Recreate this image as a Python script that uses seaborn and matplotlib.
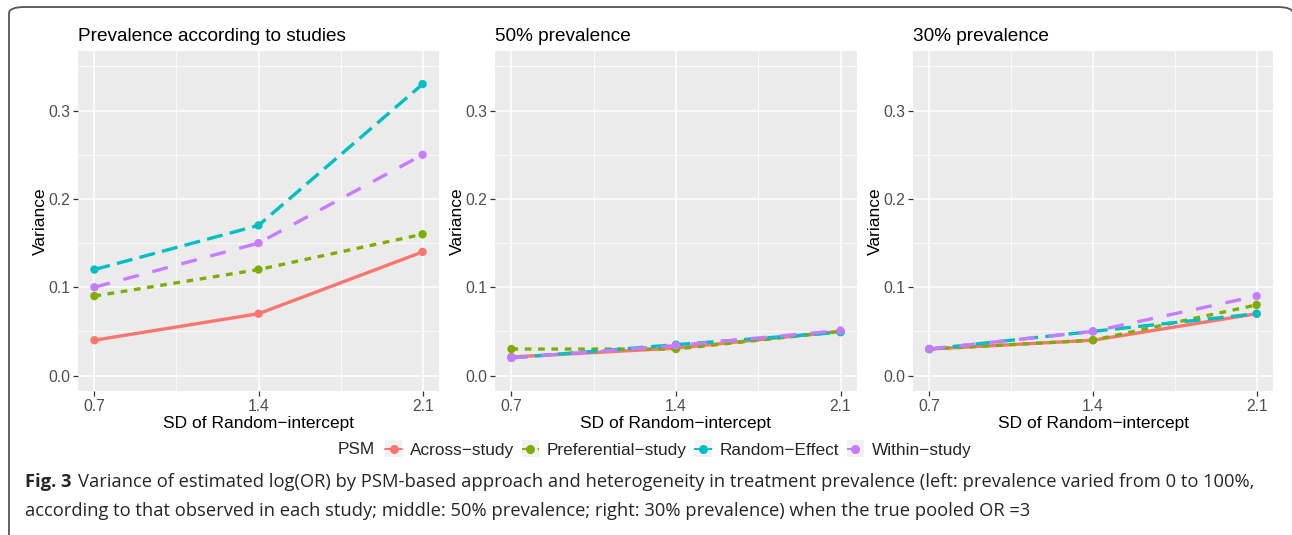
import matplotlib
matplotlib.use("Agg")
import matplotlib.pyplot as plt
import seaborn as sns
import pandas as pd
from matplotlib.patches import FancyBboxPatch, Rectangle
from matplotlib.lines import Line2D
from matplotlib.ticker import FixedLocator

# ---------------- data ----------------
sd_values = [0.7, 1.4, 2.1]
methods = ["Across\u2212study", "Preferential\u2212study", "Random\u2212Effect", "Within\u2212study"]
panel_titles = ["Prevalence according to studies", "50% prevalence", "30% prevalence"]

# Prevalence according to studies
p1_across = [0.04, 0.07, 0.14]
p1_pref = [0.09, 0.12, 0.16]
p1_random = [0.12, 0.17, 0.33]
p1_within = [0.10, 0.15, 0.25]
# 50% prevalence
p2_across = [0.021, 0.031, 0.050]
p2_pref = [0.030, 0.030, 0.050]
p2_random = [0.020, 0.035, 0.049]
p2_within = [0.020, 0.034, 0.051]
# 30% prevalence
p3_across = [0.03, 0.04, 0.07]
p3_pref = [0.03, 0.04, 0.08]
p3_random = [0.03, 0.05, 0.07]
p3_within = [0.03, 0.05, 0.09]

panels = [
    [p1_across, p1_pref, p1_random, p1_within],
    [p2_across, p2_pref, p2_random, p2_within],
    [p3_across, p3_pref, p3_random, p3_within],
]

rows = []
for title, series in zip(panel_titles, panels):
    for m, vals in zip(methods, series):
        for x, v in zip(sd_values, vals):
            rows.append({"panel": title, "PSM": m, "SD": x, "Variance": v})
df = pd.DataFrame(rows)

palette = dict(zip(methods, ["#F8766D", "#7CAE00", "#00BFC4", "#C77CFF"]))
dashes = dict(zip(methods, ["", (2.0, 2.0), (4.8, 2.2), (4.8, 4.2)]))

# ---------------- figure ----------------
sns.set_theme(style="darkgrid")
plt.rcParams["font.family"] = ["Liberation Sans", "DejaVu Sans"]

W, H = 1292, 535
fig = plt.figure(figsize=(W / 100, H / 100), dpi=100)
fig.patch.set_facecolor("white")


def fx(px):
    return px / W


def fy(py):
    return 1 - py / H


panel_x = [(78, 439), (495, 857), (913, 1273)]
top, bot = 51, 391
LW = 2.4

for (x0, x1), title in zip(panel_x, panel_titles):
    ax = fig.add_axes([fx(x0), fy(bot), fx(x1 - x0), (bot - top) / H])
    sub = df[df["panel"] == title]
    sns.lineplot(data=sub, x="SD", y="Variance", hue="PSM", style="PSM",
                 palette=palette, dashes=dashes, markers=False,
                 linewidth=LW, ax=ax, legend=False, errorbar=None)
    sns.scatterplot(data=sub, x="SD", y="Variance", hue="PSM", palette=palette,
                    s=36, linewidth=0, ax=ax, legend=False, zorder=5)
    ax.set_facecolor("#EBEBEB")
    ax.set_xlim(0.63, 2.17)
    ax.set_ylim(-0.0175, 0.3675)
    ax.set_xticks(sd_values)
    ax.set_xticklabels(["0.7", "1.4", "2.1"])
    ax.set_yticks([0.0, 0.1, 0.2, 0.3])
    ax.set_yticklabels(["0.0", "0.1", "0.2", "0.3"])
    ax.xaxis.set_minor_locator(FixedLocator([1.05, 1.75]))
    ax.yaxis.set_minor_locator(FixedLocator([0.05, 0.15, 0.25, 0.35]))
    ax.grid(which="major", color="white", linewidth=1.1)
    ax.grid(which="minor", color="white", linewidth=0.55)
    ax.set_axisbelow(True)
    for s in ax.spines.values():
        s.set_visible(False)
    ax.tick_params(axis="both", which="major", length=3.5, width=0.9, color="#333333",
                   labelsize=11.3, labelcolor="#4D4D4D", pad=2, bottom=True, left=True)
    ax.tick_params(axis="both", which="minor", length=0)
    ax.set_xlabel("SD of Random\u2212intercept", fontsize=12.5, labelpad=2, color="black")
    ax.set_ylabel("Variance", fontsize=12.5, labelpad=0.5, color="black")
    ax.set_title(title, loc="left", fontsize=13.7, pad=7, color="black")

# legend: "PSM" title on the left, then four keys
LEG_Y = 450
fig.text(fx(338), fy(LEG_Y), "PSM", fontsize=12.4, va="center", ha="left")
handles = [Line2D([0], [0], color=palette[m], marker="o", markersize=5.5,
                  linewidth=1.4, linestyle="-" if dashes[m] == "" else (0, dashes[m]))
           for m in methods]
leg = fig.legend(handles, methods, loc="center left", bbox_to_anchor=(fx(385), fy(LEG_Y)),
                 ncol=4, frameon=False, fontsize=12.4, handlelength=1.0,
                 handletextpad=0.45, columnspacing=0.45, borderaxespad=0, borderpad=0)

# light gray key backgrounds (as in ggplot legends)
fig.canvas.draw()
renderer = fig.canvas.get_renderer()
for h in leg.legend_handles:
    bbx = h.get_window_extent(renderer)
    cx, cy = (bbx.x0 + bbx.x1) / 2, (bbx.y0 + bbx.y1) / 2
    fig.patches.append(Rectangle(((cx - 8.5) / W, (cy - 8.5) / H), 17 / W, 17 / H,
                                 transform=fig.transFigure, facecolor="#F2F2F2",
                                 edgecolor="none", zorder=0))

# caption
cap_font = ["Open Sans", "DejaVu Sans"]
CAP = 13.25
t_fig = fig.text(fx(25), fy(482), "Fig. 3", fontsize=CAP, fontweight="bold", family=cap_font,
                 va="center", ha="left")
fig.canvas.draw()
bb = t_fig.get_window_extent()
fig.text((bb.x1 + 6) / W, fy(482),
         "Variance of estimated log(OR) by PSM-based approach and heterogeneity in treatment prevalence (left: prevalence varied from 0 to 100%,",
         fontsize=CAP, family=cap_font, va="center", ha="left")
fig.text(fx(25), fy(511),
         "according to that observed in each study; middle: 50% prevalence; right: 30% prevalence) when the true pooled OR =3",
         fontsize=CAP, family=cap_font, va="center", ha="left")

# outer frame (cropped rounded box)
frame = FancyBboxPatch((fx(9), fy(600)), fx(1284), (600 - 7) / H,
                       boxstyle="round,pad=0,rounding_size=0.012",
                       transform=fig.transFigure, facecolor="none",
                       edgecolor="#555555", linewidth=1.3, clip_on=False)
fig.patches.append(frame)

fig.savefig("out.png", dpi=100)
